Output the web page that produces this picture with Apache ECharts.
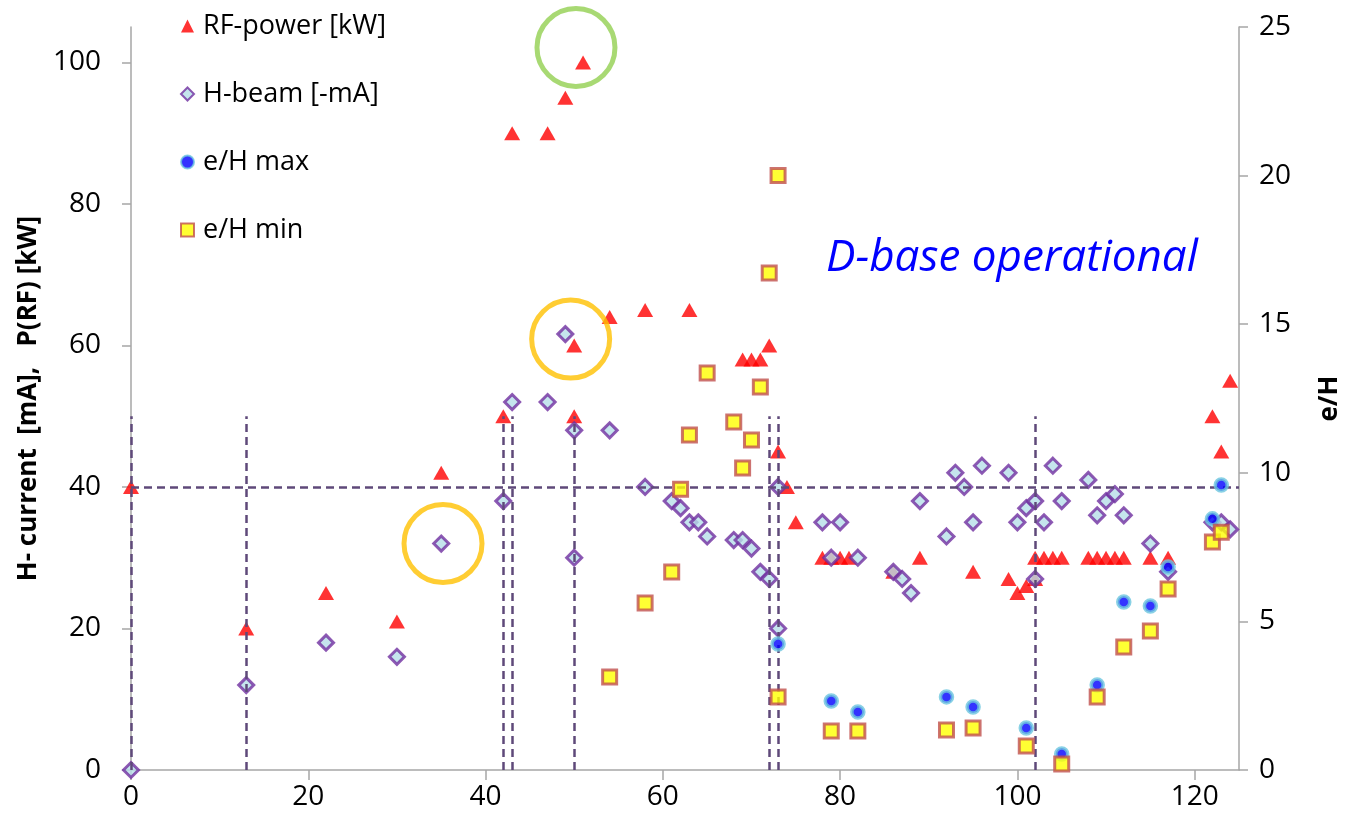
<!DOCTYPE html>
<html>
<head>
<meta charset="utf-8">
<script src="https://cdn.jsdelivr.net/npm/echarts@6/dist/echarts.min.js"></script>
<style>
html,body{margin:0;padding:0;background:#fff;}
#chart{width:1351px;height:827px;}
</style>
</head>
<body>
<div id="chart"></div>
<script>
// ---- data (x = run index, left axis: mA / kW, right axis: e/H) ----
const rfPower = [
  [0,40],[13,20],[22,25],[30,21],[35,42],[42,50],[43,90],[47,90],[49,95],[51,100],
  [50,60],[50,50],[54,64],[58,65],[63,65],[69,58],[70,58],[71,58],[72,60],[73,45],
  [74,40],[75,35],[78,30],[79,30],[80,30],[81,30],[86,28],[89,30],[95,28],[99,27],
  [100,25],[101,26],[102,27],[102,30],[103,30],[104,30],[105,30],[108,30],[109,30],
  [110,30],[111,30],[112,30],[115,30],[117,30],[122,50],[123,45],[124,55]
];
const hBeam = [
  [0,0],[13,12],[22,18],[30,16],[35,32],[42,38],[43,52],[47,52],[49,61.6],[50,48],
  [50,30],[54,48],[58,40],[61,38],[62,37],[63,35],[64,35],[65,33],[68,32.5],[69,32.5],
  [70,31.3],[71,28],[72,27],[73,20],[73,40],[78,35],[80,35],[79,30],[82,30],[86,28],
  [87,27],[88,25],[89,38],[92,33],[93,42],[94,40],[95,35],[96,43],[99,42],[100,35],
  [101,37],[102,38],[102,27],[103,35],[104,43],[105,38],[108,41],[109,36],[110,38],
  [111,39],[112,36],[115,32],[117,28],[122,35],[123,35],[124,34]
];
const ehMax = [
  [73,4.24],[79,2.32],[82,1.95],[92,2.46],[95,2.12],[101,1.41],[105,0.54],
  [109,2.86],[112,5.65],[115,5.52],[117,6.83],[122,8.45],[123,9.59]
];
const ehMin = [
  [54,3.13],[58,5.62],[61,6.66],[62,9.45],[63,11.27],[65,13.36],[68,11.71],[69,10.16],
  [70,11.1],[71,12.89],[72,16.72],[73,20.0],[73,2.46],[79,1.31],[82,1.31],[92,1.35],
  [95,1.41],[101,0.81],[105,0.2],[109,2.46],[112,4.14],[115,4.68],[117,6.09],
  [122,7.67],[123,8.0]
];
// reference lines
const vLineX = [0,13,42,43,50,72,73,102];
const vLineTop = 50;
const hLineY = 40;
// highlight circles [x, y, colour]
const highlights = [[50.2,102.1,'#92D050'],[49.6,60.9,'#FFC000'],[35.2,32,'#FFC000']];
// ticks
const xTicks = [0,20,40,60,80,100,120];
const yLeftTicks = [0,20,40,60,80,100];

const FONT = 'Open Sans';
const dashColor = '#5F497A';

const chart = echarts.init(document.getElementById('chart'));
chart.setOption({
  animation:false,
  backgroundColor:'#fff',
  textStyle:{fontFamily:FONT},
  grid:{left:131,right:106,top:27,bottom:57},
  legend:{
    orient:'vertical', left:175, top:5,
    data:['RF-power [kW]','H-beam [-mA]','e/H max','e/H min'],
    itemWidth:13, itemHeight:13, itemGap:36,
    textStyle:{fontFamily:FONT,fontSize:27,color:'#000',lineHeight:32,padding:[0,0,0,4]}
  },
  graphic:[{
    type:'text', left:826, top:236,
    style:{text:'D-base operational', fill:'#0000FF', font:'italic 44px "Open Sans"'}
  }],
  xAxis:{
    type:'value', min:0, max:125, interval:20,
    axisLine:{show:true,lineStyle:{color:'#A6A6A6',width:1.5}},
    axisTick:{show:true,length:10,lineStyle:{color:'#A6A6A6',width:1.5},customValues:xTicks},
    axisLabel:{color:'#000',fontSize:28,margin:13,customValues:xTicks},
    splitLine:{show:false}
  },
  yAxis:[{
    type:'value', min:0, max:105, interval:20, position:'left',
    name:'H- current  [mA],   P(RF) [kW]',
    nameLocation:'middle', nameGap:88, nameRotate:90,
    nameTextStyle:{fontFamily:FONT,fontSize:26,fontWeight:'bold',color:'#000'},
    axisLine:{show:true,lineStyle:{color:'#A6A6A6',width:1.5}},
    axisTick:{show:true,length:9,lineStyle:{color:'#A6A6A6',width:1.5},customValues:yLeftTicks},
    axisLabel:{color:'#000',fontSize:28,margin:30,customValues:yLeftTicks},
    splitLine:{show:false}
  },{
    type:'value', min:0, max:25, interval:5, position:'right',
    name:'e/H', nameLocation:'middle', nameGap:78, nameRotate:90,
    nameTextStyle:{fontFamily:FONT,fontSize:26,fontWeight:'bold',color:'#000'},
    axisLine:{show:true,lineStyle:{color:'#A6A6A6',width:1.5}},
    axisTick:{show:true,length:9,lineStyle:{color:'#A6A6A6',width:1.5}},
    axisLabel:{color:'#000',fontSize:28,margin:20},
    splitLine:{show:false}
  }],
  series:[
    {
      name:'lines', type:'scatter', yAxisIndex:0, data:[], silent:true,
      markLine:{
        silent:true, symbol:'none', animation:false,
        label:{show:false},
        lineStyle:{color:dashColor,width:2.5,type:[8,5]},
        data:[{yAxis:hLineY}].concat(vLineX.map(x=>[{coord:[x,0]},{coord:[x,vLineTop]}]))
      }
    },
    {
      name:'RF-power [kW]', type:'scatter', yAxisIndex:0, data:rfPower,
      symbol:'triangle', symbolSize:[16,14], z:3,
      itemStyle:{color:'#FF0000'}
    },
    {
      name:'H-beam [-mA]', type:'scatter', yAxisIndex:0, data:hBeam,
      symbol:'diamond', symbolSize:15, z:4,
      itemStyle:{color:'#B7DEE8',borderColor:'#7030A0',borderWidth:3}
    },
    {
      name:'e/H max', type:'scatter', yAxisIndex:1, data:ehMax,
      symbol:'circle', symbolSize:12, z:5,
      itemStyle:{color:'#0000FF',borderColor:'#6BC5DE',borderWidth:3.5}
    },
    {
      name:'e/H min', type:'scatter', yAxisIndex:1, data:ehMin,
      symbol:'rect', symbolSize:14, z:5,
      itemStyle:{color:'#FFFF00',borderColor:'#C0504D',borderWidth:3}
    },
    {
      name:'highlight', type:'scatter', yAxisIndex:0, silent:true, z:6,
      symbol:'circle', symbolSize:78,
      data:highlights.map(h=>({value:[h[0],h[1]],itemStyle:{color:'rgba(0,0,0,0)',borderColor:h[2],borderWidth:5}}))
    }
  ]
});
</script>
</body>
</html>
